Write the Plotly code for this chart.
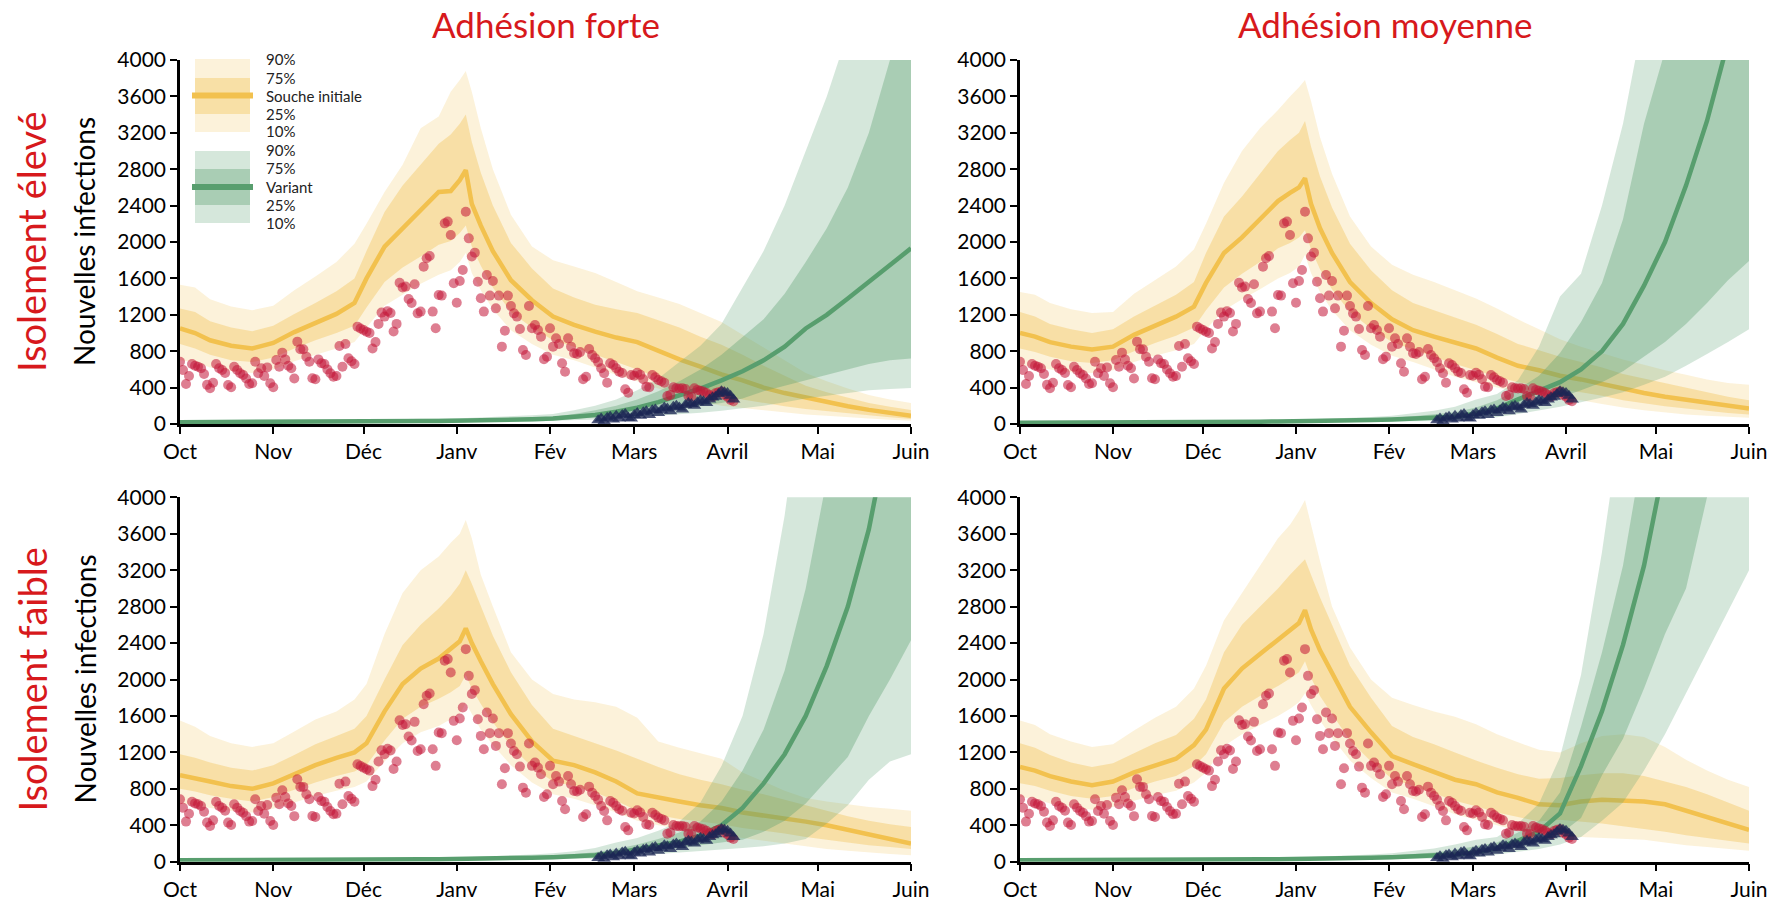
import pandas as pd
import plotly.graph_objects as go
from plotly.subplots import make_subplots

# ---------------- data ----------------
START = "2020-10-01"
END = "2021-06-01"
MONTH_TICKS = ["2020-10-01", "2020-11-01", "2020-12-01", "2021-01-01", "2021-02-01",
               "2021-03-01", "2021-04-01", "2021-05-01", "2021-06-01"]
MONTH_LABELS = ["Oct", "Nov", "Déc", "Janv", "Fév", "Mars", "Avril", "Mai", "Juin"]
Y_TICKS = [0, 400, 800, 1200, 1600, 2000, 2400, 2800, 3200, 3600, 4000]

COL_TITLES = ["Adhésion forte", "Adhésion moyenne"]
ROW_TITLES = ["Isolement élevé", "Isolement faible"]
Y_TITLE = "Nouvelles infections"

# observed daily new infections (initial strain), from 2020-10-01
OBS_CASES = [
    685, 593, 440, 527, 659, 640, 630, 612, 549, 430,
    392, 454, 659, 612, 593, 560, 429, 403, 630, 593,
    557, 538, 500, 440, 447, 685, 557, 612, 527, 622,
    447, 403, 703, 630, 784, 710, 640, 612, 500, 905,
    821, 821, 740, 685, 502, 491, 710, 667, 659, 600,
    557, 520, 527, 857, 630, 879, 722, 690, 659, 1070,
    1050, 1033, 1015, 1000, 830, 900, 1100, 1224, 1180, 1240,
    1220, 1017, 1100, 1553, 1500, 1510, 1374, 1330, 1535, 1216,
    1235, 1729, 1821, 1847, 1235, 1052, 1418, 1411, 2205, 2224,
    2077, 1546, 1333, 1571, 1692, 2333, 2040, 1840, 1883, 1564,
    1381, 1235, 1638, 1411, 1571, 1271, 1411, 850, 1025, 1411,
    1297, 1216, 1180, 1044, 813, 758, 1297, 1052, 1088, 1033,
    960, 711, 740, 1052, 850, 941, 879, 667, 575, 941,
    850, 777, 770, 790, 491, 520, 824, 758, 722, 680,
    612, 557, 454, 667, 648, 612, 575, 560, 381, 344,
    538, 530, 564, 540, 491, 410, 403, 538, 513, 484,
    470, 454, 308, 320, 403, 392, 390, 392, 385, 308,
    300, 392, 375, 365, 357, 340, 319, 300, 337, 350,
    357, 319, 300, 264, 250,
]

# observed daily new infections (variant), from 2021-02-17
VARIANT_START = "2021-02-17"
VARIANT_CASES = [
    40, 60, 30, 70, 80, 50, 90,
    60, 100, 110, 70, 60, 100,
    120, 90, 130, 140, 100, 150,
    160, 120, 150, 180, 170, 140,
    190, 200, 180, 160, 210, 230,
    220, 200, 240, 260, 250, 230,
    270, 290, 300, 330, 360,
    350, 340, 310, 270,
]

# model output sampled on these days (days after 2020-10-01)
MODEL_DAY = [0, 5, 10, 17, 24, 31, 38, 45, 52, 58, 62, 68, 74, 80, 86, 90, 93, 95, 97, 100,
             104, 110, 117, 124, 131, 138, 145, 152, 159, 166, 173, 180, 187, 194, 201, 208,
             215, 222, 229, 236, 243]

# --- Adhésion forte / Isolement élevé ---
FE_INI_P10 = [700, 680, 620, 580, 560, 600, 690, 760, 830, 900, 1060, 1300, 1420, 1540, 1640, 1690, 1780, 1880, 1660, 1470,
              1260, 1030, 880, 760, 700, 620, 540, 470, 390, 310, 250, 200, 175, 150, 125, 105, 90, 72, 60, 48, 35]
FE_INI_P25 = [880, 830, 760, 700, 680, 730, 830, 920, 1000, 1080, 1280, 1560, 1720, 1840, 1970, 2010, 2100, 2180, 1950, 1740,
              1500, 1230, 1060, 920, 850, 760, 680, 600, 510, 430, 360, 310, 270, 230, 195, 165, 140, 115, 95, 75, 55]
FE_INI_MED = [1050, 1000, 920, 860, 830, 890, 1010, 1110, 1210, 1330, 1600, 1950, 2150, 2340, 2550, 2560, 2680, 2790, 2420, 2180,
              1900, 1580, 1360, 1180, 1090, 1015, 950, 900, 800, 710, 630, 545, 480, 400, 340, 290, 240, 195, 155, 120, 90]
FE_INI_P75 = [1270, 1230, 1130, 1060, 1020, 1080, 1210, 1330, 1460, 1600, 1900, 2330, 2620, 2850, 3080, 3180, 3300, 3400, 3100, 2760,
              2400, 1990, 1710, 1490, 1390, 1310, 1260, 1220, 1140, 1060, 960, 870, 760, 640, 530, 420, 350, 290, 230, 190, 155]
FE_INI_P90 = [1530, 1500, 1370, 1290, 1250, 1300, 1470, 1620, 1780, 1980, 2200, 2550, 2850, 3250, 3380, 3650, 3780, 3880, 3650, 3250,
              2800, 2300, 1950, 1800, 1730, 1660, 1560, 1460, 1390, 1320, 1220, 1120, 980, 840, 700, 560, 470, 390, 320, 270, 230]
FE_VAR_P10 = [10, 10, 10, 11, 11, 11, 12, 12, 13, 13, 14, 14, 15, 16, 17, 18, 18, 19, 19, 20,
              21, 23, 26, 35, 40, 50, 60, 75, 90, 105, 125, 145, 170, 200, 240, 280, 310, 340, 370, 385, 395]
FE_VAR_P25 = [15, 15, 15, 16, 16, 17, 17, 18, 19, 20, 20, 21, 23, 24, 26, 26, 27, 28, 29, 30,
              32, 35, 39, 45, 55, 70, 90, 115, 140, 170, 200, 230, 280, 360, 420, 480, 540, 600, 660, 700, 720]
FE_VAR_MED = [20, 20, 20, 21, 21, 22, 23, 24, 25, 26, 27, 28, 30, 32, 34, 35, 36, 37, 38, 40,
              42, 46, 52, 60, 75, 100, 135, 180, 240, 310, 390, 480, 580, 700, 850, 1050, 1200, 1380, 1560, 1750, 1930]
FE_VAR_P75 = [26, 26, 26, 27, 27, 29, 30, 31, 33, 34, 35, 36, 39, 42, 44, 46, 47, 48, 49, 52,
              55, 60, 68, 80, 110, 150, 200, 270, 360, 470, 600, 760, 950, 1150, 1430, 1780, 2150, 2600, 3200, 4000, 4700]
FE_VAR_P90 = [32, 32, 32, 34, 34, 36, 38, 40, 42, 44, 46, 48, 52, 56, 60, 62, 64, 66, 68, 72,
              76, 84, 95, 110, 150, 200, 270, 370, 500, 680, 860, 1100, 1500, 1900, 2400, 3000, 3600, 4300, 5000, 6000, 7000]

# --- Adhésion moyenne / Isolement élevé ---
ME_INI_P10 = [650, 620, 600, 570, 560, 590, 680, 750, 810, 880, 1040, 1250, 1370, 1480, 1600, 1660, 1730, 1860, 1660, 1450,
              1250, 1030, 870, 750, 680, 600, 520, 460, 400, 350, 320, 290, 260, 220, 180, 150, 125, 105, 90, 80, 70]
ME_INI_P25 = [830, 790, 740, 690, 670, 700, 800, 890, 970, 1060, 1250, 1500, 1650, 1780, 1930, 1990, 2050, 2130, 1920, 1700,
              1480, 1230, 1050, 900, 820, 740, 660, 590, 520, 460, 420, 380, 350, 310, 260, 225, 195, 170, 145, 120, 105]
ME_INI_MED = [1000, 960, 900, 850, 820, 850, 980, 1080, 1180, 1290, 1550, 1880, 2050, 2250, 2450, 2540, 2600, 2700, 2420, 2150,
              1880, 1560, 1330, 1150, 1030, 960, 890, 830, 730, 640, 590, 530, 490, 440, 380, 340, 300, 270, 230, 200, 170]
ME_INI_P75 = [1230, 1180, 1100, 1040, 1000, 1040, 1180, 1300, 1420, 1560, 1880, 2280, 2500, 2750, 3000, 3120, 3200, 3330, 3050, 2720,
              2380, 1980, 1690, 1470, 1330, 1250, 1170, 1090, 990, 880, 810, 740, 680, 620, 550, 500, 450, 400, 350, 300, 260]
ME_INI_P90 = [1450, 1420, 1330, 1260, 1220, 1230, 1430, 1580, 1730, 1920, 2200, 2650, 3000, 3250, 3450, 3600, 3700, 3780, 3550, 3150,
              2750, 2280, 1950, 1750, 1640, 1560, 1470, 1380, 1270, 1150, 1040, 930, 850, 780, 710, 650, 590, 540, 490, 450, 430]
ME_VAR_P10 = [8, 8, 8, 8, 8, 9, 9, 10, 10, 11, 12, 12, 13, 14, 15, 15, 16, 16, 16, 17,
              18, 20, 23, 26, 30, 34, 40, 55, 75, 110, 150, 190, 240, 290, 350, 430, 520, 640, 770, 900, 1040]
ME_VAR_P25 = [11, 11, 11, 12, 12, 13, 13, 14, 15, 15, 16, 17, 18, 19, 21, 21, 22, 22, 23, 24,
              25, 28, 32, 36, 42, 48, 56, 80, 110, 170, 230, 290, 370, 460, 580, 740, 900, 1100, 1330, 1580, 1790]
ME_VAR_MED = [15, 15, 15, 16, 16, 17, 18, 19, 20, 21, 22, 23, 24, 26, 28, 29, 30, 30, 31, 32,
              34, 38, 44, 50, 58, 68, 80, 115, 170, 270, 360, 460, 600, 800, 1100, 1520, 2000, 2620, 3330, 4200, 5300]
ME_VAR_P75 = [20, 20, 20, 21, 21, 22, 23, 24, 25, 27, 28, 29, 31, 34, 36, 38, 39, 40, 41, 43,
              45, 52, 60, 70, 85, 105, 130, 180, 260, 380, 530, 780, 1120, 1550, 2250, 3300, 4100, 5400, 7000, 9000, 11000]
ME_VAR_P90 = [25, 25, 25, 26, 26, 28, 29, 30, 32, 34, 35, 37, 40, 43, 46, 48, 50, 51, 52, 55,
              58, 66, 78, 92, 115, 145, 190, 270, 330, 480, 850, 1400, 1650, 2400, 3300, 4500, 6000, 8000, 10000, 13000, 16000]

# --- Adhésion forte / Isolement faible ---
FF_INI_P10 = [640, 620, 590, 560, 540, 580, 650, 720, 780, 820, 880, 1100, 1300, 1420, 1490, 1560, 1620, 1740, 1620, 1450,
              1280, 1060, 870, 740, 690, 620, 540, 450, 400, 360, 330, 300, 260, 230, 200, 170, 140, 120, 100, 85, 70]
FF_INI_P25 = [800, 770, 730, 690, 660, 710, 790, 870, 940, 990, 1060, 1330, 1570, 1700, 1790, 1860, 1930, 2050, 1900, 1730,
              1530, 1270, 1040, 880, 830, 760, 670, 560, 510, 470, 440, 410, 370, 340, 310, 270, 240, 210, 180, 160, 140]
FF_INI_MED = [950, 920, 880, 830, 800, 860, 960, 1060, 1140, 1200, 1300, 1650, 1950, 2120, 2230, 2330, 2420, 2560, 2400, 2200,
              1950, 1620, 1320, 1110, 1060, 980, 880, 750, 700, 660, 620, 590, 540, 510, 480, 440, 400, 350, 300, 250, 200]
FF_INI_P75 = [1180, 1140, 1090, 1030, 1000, 1060, 1170, 1290, 1380, 1460, 1600, 2000, 2380, 2600, 2780, 2920, 3050, 3200, 3050, 2800,
              2480, 2080, 1720, 1460, 1380, 1300, 1220, 1130, 1040, 960, 900, 850, 790, 740, 680, 620, 560, 500, 450, 410, 380]
FF_INI_P90 = [1550, 1480, 1380, 1300, 1260, 1300, 1430, 1560, 1650, 1780, 1950, 2500, 2950, 3200, 3350, 3500, 3600, 3750, 3550, 3150,
              2800, 2300, 2000, 1840, 1780, 1750, 1700, 1580, 1320, 1250, 1190, 1130, 980, 880, 780, 700, 660, 630, 600, 580, 560]
FF_VAR_P10 = [8, 8, 8, 8, 8, 9, 9, 10, 10, 11, 12, 12, 13, 14, 15, 15, 16, 16, 16, 17,
              18, 20, 23, 26, 30, 34, 42, 70, 85, 100, 115, 130, 150, 170, 200, 250, 420, 620, 900, 1100, 1180]
FF_VAR_P25 = [11, 11, 11, 12, 12, 13, 13, 14, 15, 15, 16, 17, 18, 19, 21, 21, 22, 22, 23, 24,
              25, 28, 32, 36, 42, 48, 60, 100, 125, 150, 180, 210, 240, 330, 450, 640, 900, 1150, 1600, 2000, 2430]
FF_VAR_MED = [15, 15, 15, 16, 16, 17, 18, 19, 20, 21, 22, 23, 24, 26, 28, 29, 30, 30, 31, 32,
              34, 38, 44, 50, 58, 70, 95, 140, 180, 220, 290, 400, 590, 860, 1180, 1600, 2150, 2800, 3650, 4700, 6000]
FF_VAR_P75 = [20, 20, 20, 21, 21, 22, 23, 24, 25, 27, 28, 29, 31, 34, 36, 38, 39, 40, 41, 43,
              45, 52, 60, 70, 85, 105, 140, 190, 250, 320, 440, 660, 1000, 1450, 2100, 3000, 4200, 5500, 7200, 9500, 12000]
FF_VAR_P90 = [25, 25, 25, 26, 26, 28, 29, 30, 32, 34, 35, 37, 40, 43, 46, 48, 50, 51, 52, 55,
              58, 66, 78, 92, 115, 150, 210, 260, 340, 440, 650, 1050, 1600, 2500, 3800, 5500, 7500, 10000, 13000, 17000, 22000]

# --- Adhésion moyenne / Isolement faible ---
MF_INI_P10 = [710, 690, 640, 600, 570, 600, 670, 730, 780, 870, 980, 1270, 1400, 1500, 1600, 1680, 1750, 1850, 1720, 1550,
              1360, 1110, 920, 760, 690, 610, 520, 460, 400, 340, 300, 270, 270, 260, 250, 240, 210, 180, 160, 140, 120]
MF_INI_P25 = [860, 830, 780, 720, 690, 720, 810, 880, 940, 1050, 1180, 1530, 1700, 1820, 1930, 2010, 2080, 2200, 2020, 1820,
              1620, 1330, 1100, 910, 830, 750, 670, 610, 540, 490, 440, 460, 440, 420, 390, 360, 330, 290, 260, 230, 200]
MF_INI_MED = [1040, 1000, 940, 880, 840, 880, 980, 1060, 1130, 1280, 1450, 1900, 2120, 2280, 2440, 2550, 2620, 2760, 2550, 2320,
              2080, 1700, 1420, 1160, 1070, 990, 900, 850, 760, 700, 630, 620, 660, 680, 670, 660, 630, 560, 490, 420, 350]
MF_INI_P75 = [1300, 1250, 1170, 1090, 1040, 1080, 1190, 1300, 1390, 1570, 1780, 2300, 2600, 2800, 3000, 3150, 3250, 3320, 3150, 2900,
              2600, 2150, 1800, 1490, 1370, 1290, 1200, 1110, 1030, 960, 910, 920, 950, 970, 970, 940, 880, 820, 740, 650, 560]
MF_INI_P90 = [1550, 1500, 1400, 1320, 1260, 1290, 1440, 1580, 1700, 1900, 2150, 2650, 2950, 3250, 3550, 3700, 3850, 3970, 3700, 3300,
              2800, 2350, 2000, 1800, 1720, 1650, 1590, 1510, 1400, 1310, 1230, 1200, 1300, 1380, 1400, 1370, 1260, 1120, 1000, 900, 820]
MF_VAR_P10 = [8, 8, 8, 8, 8, 9, 9, 10, 10, 11, 12, 12, 13, 14, 15, 15, 16, 16, 16, 17,
              18, 20, 23, 26, 30, 34, 40, 52, 80, 110, 140, 190, 270, 450, 650, 1000, 1400, 1850, 2300, 2750, 3200]
MF_VAR_P25 = [11, 11, 11, 12, 12, 13, 13, 14, 15, 15, 16, 17, 18, 19, 21, 21, 22, 22, 23, 24,
              25, 28, 32, 36, 42, 48, 56, 75, 110, 160, 220, 300, 480, 950, 1350, 1900, 2500, 3000, 4000, 4700, 5800]
MF_VAR_MED = [15, 15, 15, 16, 16, 17, 18, 19, 20, 21, 22, 23, 24, 26, 28, 29, 30, 30, 31, 32,
              34, 38, 44, 50, 56, 64, 78, 105, 150, 230, 330, 530, 1050, 1650, 2380, 3250, 4400, 6000, 8000, 10500, 14000]
MF_VAR_P75 = [20, 20, 20, 21, 21, 22, 23, 24, 25, 27, 28, 29, 31, 34, 36, 38, 39, 40, 41, 43,
              45, 52, 60, 70, 85, 100, 130, 170, 210, 320, 450, 760, 1480, 2300, 3250, 4600, 6500, 9000, 12000, 16000, 21000]
MF_VAR_P90 = [25, 25, 25, 26, 26, 28, 29, 30, 32, 34, 35, 37, 40, 43, 46, 48, 50, 51, 52, 55,
              58, 66, 78, 92, 115, 145, 190, 240, 270, 420, 640, 1150, 2050, 3400, 5000, 7000, 9500, 13000, 17000, 22000, 29000]

# ---------------- styling ----------------
W, H = 1775, 901
FONT = "Lato"
RED_TITLE = "#d7191c"
ORANGE_LINE = "#f2c14e"
ORANGE_PALE = "rgba(240,190,70,0.20)"
ORANGE_DARK = "rgba(240,190,70,0.35)"
GREEN_LINE = "#589e6e"
GREEN_PALE = "rgba(88,158,110,0.25)"
GREEN_DARK = "rgba(88,158,110,0.35)"
OBS_COLOR = "rgba(195,20,55,0.55)"
VAR_COLOR = "rgba(28,38,85,0.78)"


def px_x(p):
    return p / W


def px_y(p):
    return 1 - p / H


start_ts = pd.Timestamp(START)
model_dates = [(start_ts + pd.Timedelta(days=int(d))).strftime("%Y-%m-%d") for d in MODEL_DAY]
obs_dates = pd.date_range(START, periods=len(OBS_CASES), freq="D").strftime("%Y-%m-%d").tolist()
var_dates = pd.date_range(VARIANT_START, periods=len(VARIANT_CASES), freq="D").strftime("%Y-%m-%d").tolist()

panels = [
    (1, 1, (FE_INI_P10, FE_INI_P25, FE_INI_MED, FE_INI_P75, FE_INI_P90),
     (FE_VAR_P10, FE_VAR_P25, FE_VAR_MED, FE_VAR_P75, FE_VAR_P90)),
    (1, 2, (ME_INI_P10, ME_INI_P25, ME_INI_MED, ME_INI_P75, ME_INI_P90),
     (ME_VAR_P10, ME_VAR_P25, ME_VAR_MED, ME_VAR_P75, ME_VAR_P90)),
    (2, 1, (FF_INI_P10, FF_INI_P25, FF_INI_MED, FF_INI_P75, FF_INI_P90),
     (FF_VAR_P10, FF_VAR_P25, FF_VAR_MED, FF_VAR_P75, FF_VAR_P90)),
    (2, 2, (MF_INI_P10, MF_INI_P25, MF_INI_MED, MF_INI_P75, MF_INI_P90),
     (MF_VAR_P10, MF_VAR_P25, MF_VAR_MED, MF_VAR_P75, MF_VAR_P90)),
]

fig = make_subplots(rows=2, cols=2)


def band(row, col, lo, hi, color):
    fig.add_trace(go.Scatter(x=model_dates, y=lo, mode="lines", line=dict(width=0, color=color),
                             hoverinfo="skip", showlegend=False), row=row, col=col)
    fig.add_trace(go.Scatter(x=model_dates, y=hi, mode="lines", line=dict(width=0, color=color),
                             fill="tonexty", fillcolor=color, hoverinfo="skip", showlegend=False),
                  row=row, col=col)


for row, col, ini, var in panels:
    p10, p25, med, p75, p90 = ini
    band(row, col, p10, p90, ORANGE_PALE)
    band(row, col, p25, p75, ORANGE_DARK)
    fig.add_trace(go.Scatter(x=model_dates, y=med, mode="lines",
                             line=dict(width=4.5, color=ORANGE_LINE), showlegend=False),
                  row=row, col=col)
    v10, v25, vmed, v75, v90 = var
    band(row, col, v10, v90, GREEN_PALE)
    band(row, col, v25, v75, GREEN_DARK)
    fig.add_trace(go.Scatter(x=model_dates, y=vmed, mode="lines",
                             line=dict(width=4.5, color=GREEN_LINE), showlegend=False),
                  row=row, col=col)
    fig.add_trace(go.Scatter(x=obs_dates, y=OBS_CASES, mode="markers",
                             marker=dict(size=10, color=OBS_COLOR, line=dict(width=0)),
                             showlegend=False), row=row, col=col)
    fig.add_trace(go.Scatter(x=var_dates, y=VARIANT_CASES, mode="markers",
                             marker=dict(size=12, symbol="triangle-up", color=VAR_COLOR, line=dict(width=0)),
                             showlegend=False), row=row, col=col)

# axes domains (pixel layout)
x_domains = {1: [px_x(180), px_x(911)], 2: [px_x(1020), px_x(1749)]}
y_domains = {1: [px_y(424), px_y(60)], 2: [px_y(861.7), px_y(497.3)]}

axis_common = dict(showline=True, linecolor="black", linewidth=2.5, ticks="outside", ticklen=7,
                   tickwidth=2, tickcolor="black", showgrid=False, zeroline=False, automargin=False,
                   tickfont=dict(family=FONT, size=21, color="black"))

for row in (1, 2):
    for col in (1, 2):
        fig.update_xaxes(type="date", range=[START, END], tickvals=MONTH_TICKS, ticktext=MONTH_LABELS,
                         domain=x_domains[col], row=row, col=col, **axis_common)
        fig.update_yaxes(range=[0, 4000], tickvals=Y_TICKS, ticktext=[str(v) for v in Y_TICKS],
                         domain=y_domains[row], row=row, col=col, **axis_common)

annotations = []
# column titles
for col, txt in zip((1, 2), COL_TITLES):
    cx = (x_domains[col][0] + x_domains[col][1]) / 2
    annotations.append(dict(text=txt, x=cx, y=px_y(1), xref="paper", yref="paper", showarrow=False,
                            xanchor="center", yanchor="top",
                            font=dict(family=FONT, size=35, color=RED_TITLE)))
# row titles and y titles
for row, txt in zip((1, 2), ROW_TITLES):
    cy = (y_domains[row][0] + y_domains[row][1]) / 2
    annotations.append(dict(text=txt, x=px_x(31), y=cy, xref="paper", yref="paper", showarrow=False,
                            textangle=-90, xanchor="center", yanchor="middle",
                            font=dict(family=FONT, size=38, color=RED_TITLE)))
    annotations.append(dict(text=Y_TITLE, x=px_x(84), y=cy, xref="paper", yref="paper", showarrow=False,
                            textangle=-90, xanchor="center", yanchor="middle",
                            font=dict(family=FONT, size=28, color="black")))

# custom legend in top-left panel
shapes = []
LEG_LABELS_INI = ["90%", "75%", "Souche initiale", "25%", "10%"]
LEG_LABELS_VAR = ["90%", "75%", "Variant", "25%", "10%"]
legend_blocks = [
    (59, 132, 78, 114, 95.5, "#fcf2da", "#f8e0a6", ORANGE_LINE, LEG_LABELS_INI, [59, 78, 95.5, 114, 131]),
    (151, 223, 169, 205, 187, "#d5e7db", "#a9cdb4", GREEN_LINE, LEG_LABELS_VAR, [150, 168.5, 187, 205, 223]),
]
for top, bot, dtop, dbot, ly, pale, dark, line_c, labels, label_y in legend_blocks:
    shapes.append(dict(type="rect", xref="paper", yref="paper", x0=px_x(195), x1=px_x(250),
                       y0=px_y(bot), y1=px_y(top), fillcolor=pale, line=dict(width=0), layer="above"))
    shapes.append(dict(type="rect", xref="paper", yref="paper", x0=px_x(195), x1=px_x(250),
                       y0=px_y(dbot), y1=px_y(dtop), fillcolor=dark, line=dict(width=0), layer="above"))
    shapes.append(dict(type="line", xref="paper", yref="paper", x0=px_x(192), x1=px_x(253),
                       y0=px_y(ly), y1=px_y(ly), line=dict(color=line_c, width=6), layer="above"))
    for lab, yy in zip(labels, label_y):
        annotations.append(dict(text=lab, x=px_x(264), y=px_y(yy), xref="paper", yref="paper",
                                showarrow=False, xanchor="left", yanchor="middle",
                                font=dict(family=FONT, size=15, color="#222222")))

fig.update_layout(width=W, height=H, margin=dict(l=0, r=0, t=0, b=0, autoexpand=False),
                  paper_bgcolor="white", plot_bgcolor="white", showlegend=False,
                  font=dict(family=FONT, color="black"),
                  annotations=annotations, shapes=shapes)

fig.write_html("out.html")
